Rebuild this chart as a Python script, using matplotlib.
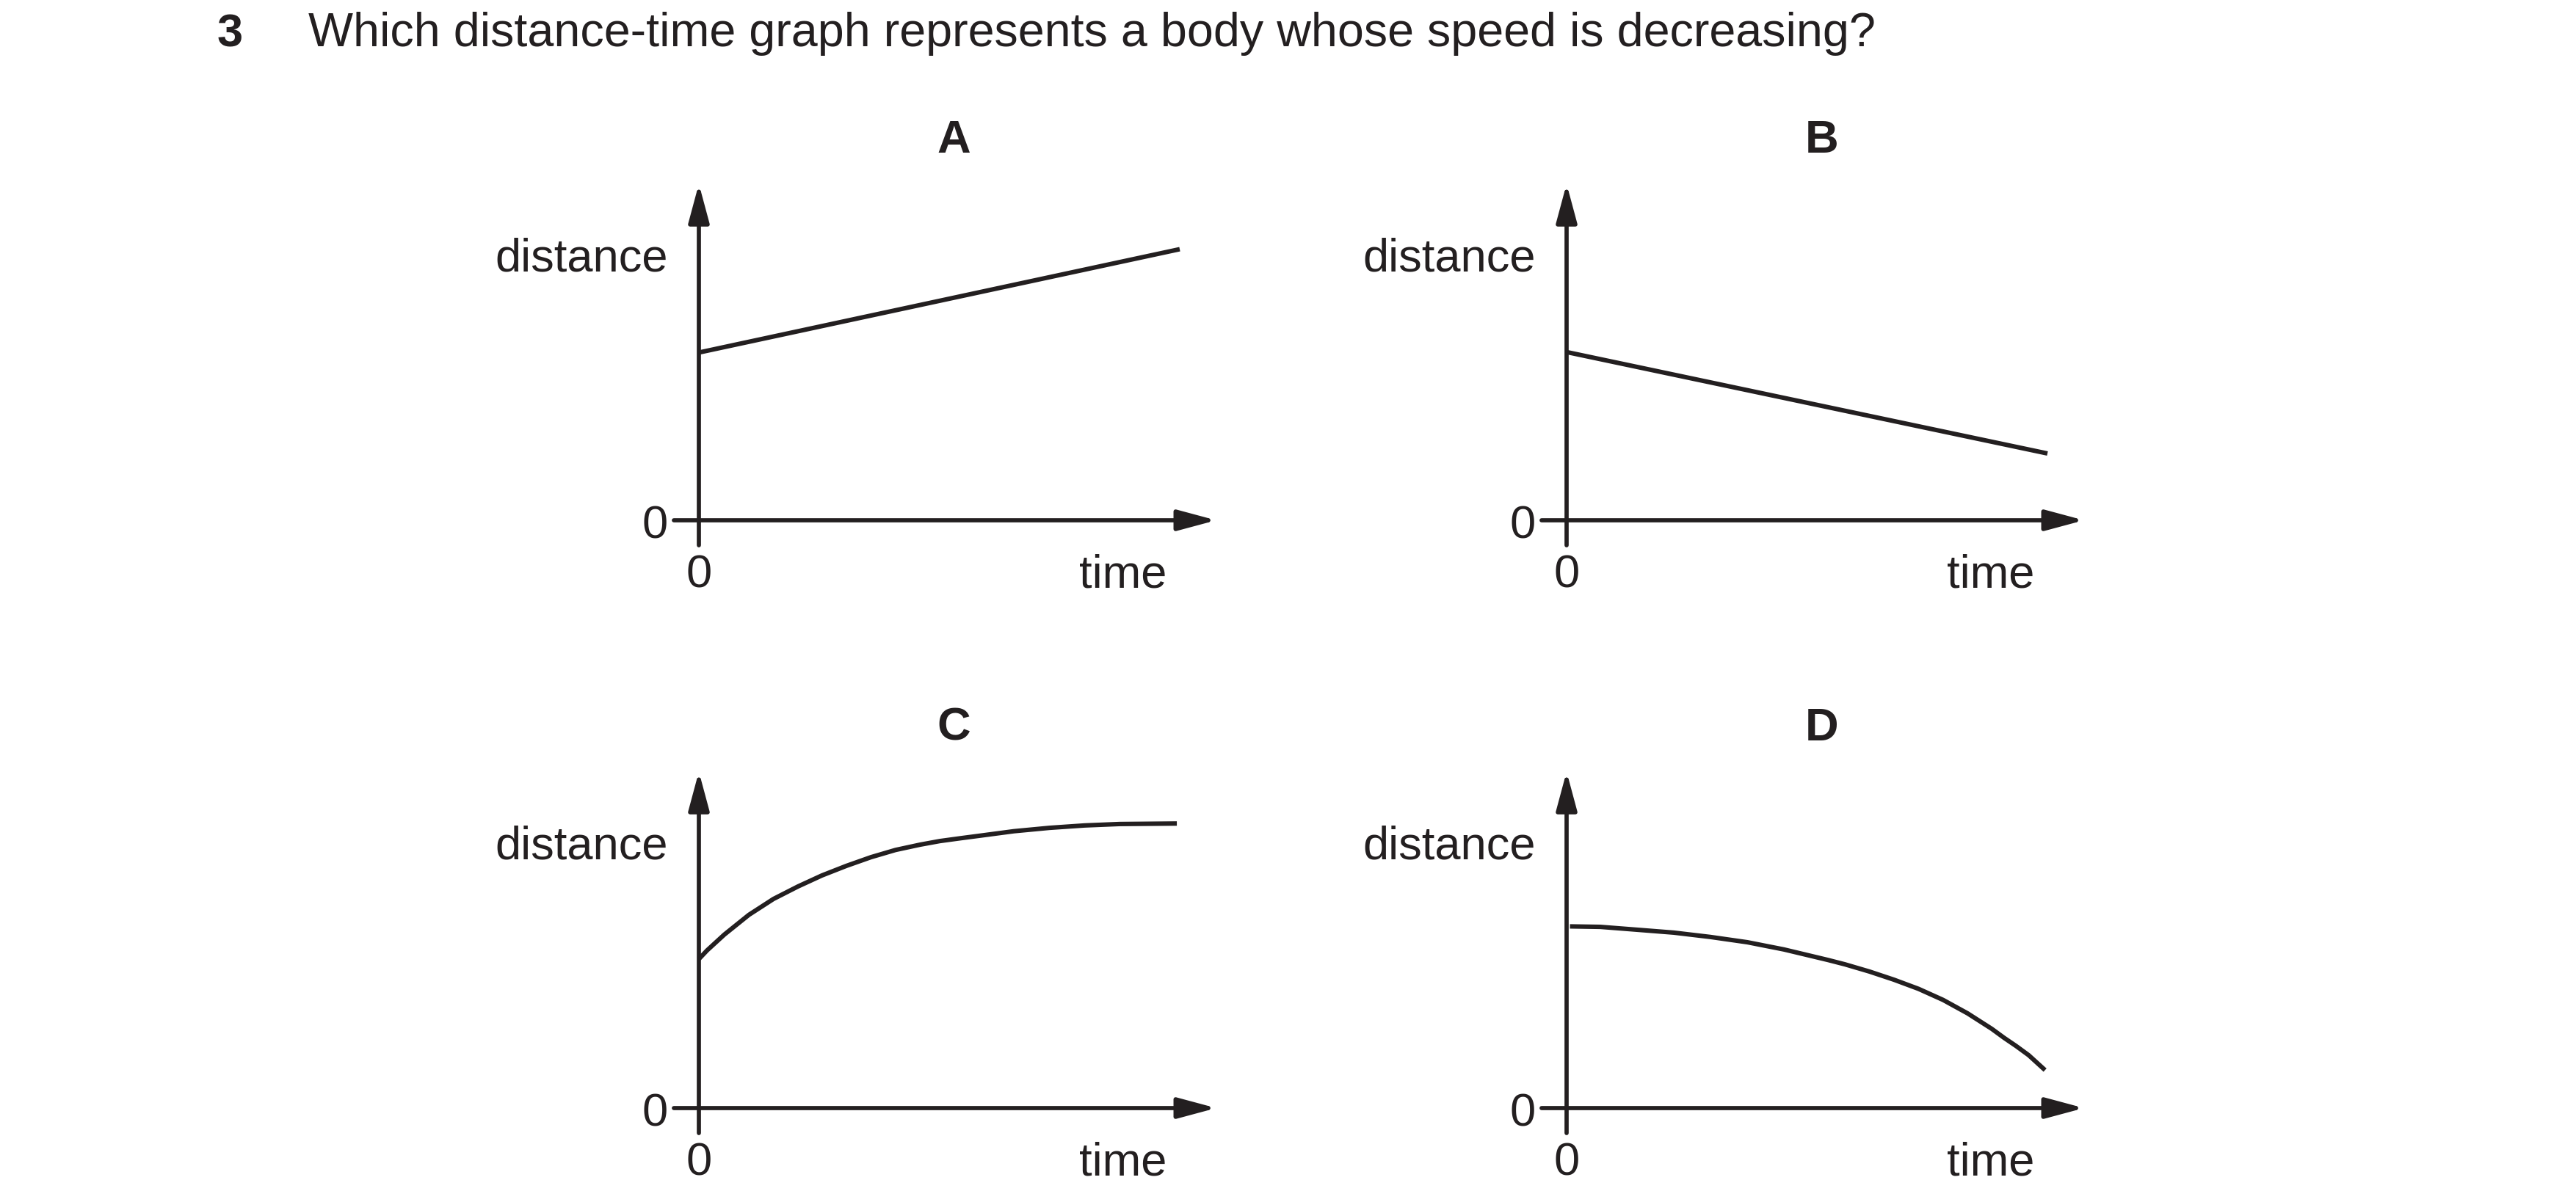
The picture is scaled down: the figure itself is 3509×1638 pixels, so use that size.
import matplotlib
matplotlib.use("Agg")
import matplotlib.pyplot as plt

plt.rcParams['font.family'] = ['Liberation Sans', 'DejaVu Sans']

# ---------------- data ----------------
question_number = "3"
question_text = "Which distance-time graph represents a body whose speed is decreasing?"
panel_labels = ["A", "B", "C", "D"]
x_label = "time"
y_label = "distance"
zero_label = "0"

A_time = [0.0, 10.0]
A_dist = [3.49, 5.64]

B_time = [0.0, 10.0]
B_dist = [3.50, 1.39]

C_time = [0.0, 0.17, 0.53, 1.04, 1.55, 2.06, 2.56, 3.07, 3.58, 4.09, 4.60,
          5.01, 5.45, 5.87, 6.55, 7.29, 8.02, 8.75, 9.94]
C_dist = [3.10, 3.28, 3.61, 4.02, 4.35, 4.61, 4.84, 5.04, 5.22, 5.37, 5.48,
          5.555, 5.615, 5.67, 5.76, 5.83, 5.88, 5.91, 5.92]

D_time = [0.07, 0.70, 1.47, 2.23, 2.99, 3.76, 4.52, 5.44, 5.79, 6.30, 6.81,
          7.32, 7.83, 8.34, 8.84, 9.10, 9.35, 9.61, 9.95]
D_dist = [3.78, 3.77, 3.71, 3.65, 3.56, 3.45, 3.30, 3.08, 2.99, 2.84, 2.67,
          2.48, 2.25, 1.97, 1.65, 1.46, 1.29, 1.10, 0.79]

series = {"A": (A_time, A_dist), "B": (B_time, B_dist),
          "C": (C_time, C_dist), "D": (D_time, D_dist)}

# ---------------- layout ----------------
W, H = 3509, 1638
DPI = 100
INK = '#231f20'
FS = 45.5
FS_TITLE = 46.5
U = 65.5                      # pixels per data unit
XMIN, XMAX = -0.52, 10.76
YMIN, YMAX = -0.52, 7.0
origins = {"A": (952, 709), "B": (2134, 709), "C": (952, 1510), "D": (2134, 1510)}

fig = plt.figure(figsize=(W / DPI, H / DPI), dpi=DPI)
fig.patch.set_facecolor('white')

fig.text(296 / W, 1 - 63 / H, question_number, fontsize=FS, fontweight='bold',
         color=INK, ha='left', va='baseline')
fig.text(420 / W, 1 - 63 / H, question_text, fontsize=FS_TITLE, color=INK,
         ha='left', va='baseline')

arrow_style = '-|>,head_length=32,head_width=8.6'

for name in panel_labels:
    ox, oy = origins[name]
    left = ox + XMIN * U
    right = ox + XMAX * U
    top = oy - YMAX * U
    bottom = oy - YMIN * U
    ax = fig.add_axes([left / W, 1 - bottom / H, (right - left) / W, (bottom - top) / H])
    ax.set_xlim(XMIN, XMAX)
    ax.set_ylim(YMIN, YMAX)
    ax.axis('off')

    # axes with arrow heads
    ax.annotate('', xy=(XMAX, 0), xytext=(XMIN, 0),
                arrowprops=dict(arrowstyle=arrow_style, lw=4.1, color=INK,
                                shrinkA=0, shrinkB=0, mutation_scale=1),
                annotation_clip=False)
    ax.annotate('', xy=(0, YMAX), xytext=(0, YMIN),
                arrowprops=dict(arrowstyle=arrow_style, lw=4.1, color=INK,
                                shrinkA=0, shrinkB=0, mutation_scale=1),
                annotation_clip=False)

    t, d = series[name]
    ax.plot(t, d, color=INK, lw=4.4, solid_capstyle='butt',
            solid_joinstyle='round', clip_on=False)

    ax.text(5.3, 7.65, name, fontsize=FS, fontweight='bold', color=INK,
            ha='center', va='baseline')
    ax.text(-0.64, 5.19, y_label, fontsize=FS, color=INK, ha='right', va='baseline')
    ax.text(-0.64, -0.38, zero_label, fontsize=FS, color=INK, ha='right', va='baseline')
    ax.text(0.0, -1.39, zero_label, fontsize=FS, color=INK, ha='center', va='baseline')
    ax.text(9.73, -1.39, x_label, fontsize=FS, color=INK, ha='right', va='baseline')

fig.savefig('out.png', dpi=DPI, facecolor='white')
